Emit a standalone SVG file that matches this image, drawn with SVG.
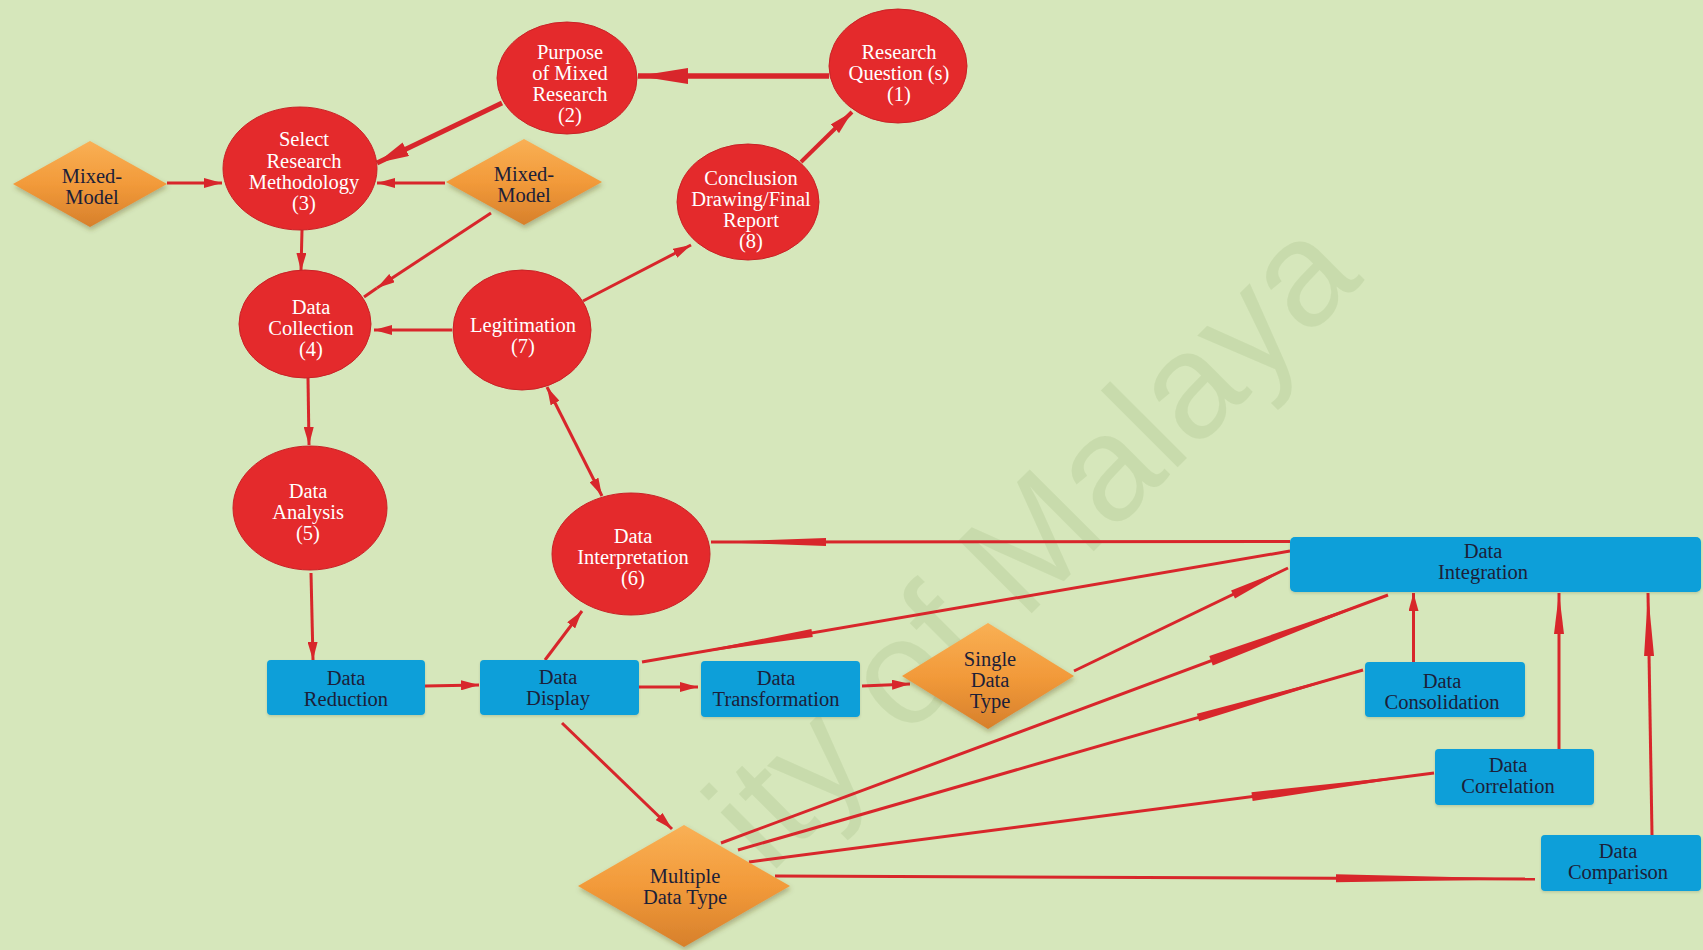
<svg xmlns="http://www.w3.org/2000/svg" xmlns:xlink="http://www.w3.org/1999/xlink" width="1703" height="950" viewBox="0 0 1703 950">
  <style>
    .bg { fill: #d6e7bb; }
    .circle { fill: #e42a2c; stroke: #c92226; stroke-width: 1; }
    .box { fill: #079fd9; filter: url(#boxShadow); }
    .diamond { fill: url(#gOrange); filter: url(#dShadow); }
    .wt { font-family: "Liberation Serif", "Times New Roman", serif; font-size: 20.5px; fill: #ffffff; text-anchor: middle; }
    .dt { font-family: "Liberation Serif", "Times New Roman", serif; font-size: 20.5px; fill: #1c2038; text-anchor: middle; }
    .ln { stroke: #d8262b; stroke-width: 3; fill: none; stroke-linecap: butt; }
    .spear { fill: #d8262b; }
    .wm { font-family: "Liberation Sans", Arial, sans-serif; font-size: 150px; fill: #bcd19f; opacity: 0.5; }
  </style>
  <defs>
    <linearGradient id="gOrange" x1="0" y1="0" x2="0" y2="1">
      <stop offset="0" stop-color="#f9b055"/>
      <stop offset="0.5" stop-color="#f29a3a"/>
      <stop offset="1" stop-color="#d7802b"/>
    </linearGradient>
    <filter id="dShadow" x="-20%" y="-20%" width="140%" height="150%">
      <feDropShadow dx="1" dy="3" stdDeviation="2.5" flood-color="#5c4a1c" flood-opacity="0.35"/>
    </filter>
    <filter id="boxShadow" x="-10%" y="-20%" width="120%" height="150%">
      <feDropShadow dx="0" dy="1.5" stdDeviation="1.2" flood-color="#3f5a3a" flood-opacity="0.2"/>
    </filter>
    <!-- standard arrowhead -->
    <marker id="ah" markerUnits="userSpaceOnUse" markerWidth="18" markerHeight="10" refX="18" refY="5" orient="auto-start-reverse">
      <path d="M0,0 L18,5 L0,10 Z" fill="#d8262b"/>
    </marker>
    <marker id="ahBig" markerUnits="userSpaceOnUse" markerWidth="50" markerHeight="16" refX="50" refY="8" orient="auto">
      <path d="M0,0 L50,8 L0,16 Z" fill="#d8262b"/>
    </marker>
    <marker id="ahMid" markerUnits="userSpaceOnUse" markerWidth="32" markerHeight="15" refX="32" refY="7.5" orient="auto">
      <path d="M0,0 L32,7.5 L0,15 Z" fill="#d8262b"/>
    </marker>
    <marker id="ahC" markerUnits="userSpaceOnUse" markerWidth="24" markerHeight="12" refX="24" refY="6" orient="auto">
      <path d="M0,0 L24,6 L0,12 Z" fill="#d8262b"/>
    </marker>
    <!-- long tapered head: tip at origin, base at x=1 -->
    <path id="spear" d="M0,0 L1,-1 L1,1 Z"/>
  </defs>

  <rect class="bg" x="0" y="0" width="1703" height="950"/>

  <!-- watermark -->
  <text class="wm" transform="translate(1365,280) rotate(-45)" text-anchor="end">ity of Malaya</text>

  <!-- connectors -->
  <g id="connectors">
    <line class="ln" x1="829" y1="76" x2="638" y2="76" style="stroke-width:5.5" marker-end="url(#ahBig)"/>
    <line class="ln" x1="502" y1="103" x2="377" y2="163" style="stroke-width:5" marker-end="url(#ahMid)"/>
    <line class="ln" x1="167" y1="183" x2="222" y2="183" marker-end="url(#ah)"/>
    <line class="ln" x1="445" y1="183" x2="377" y2="183" marker-end="url(#ah)"/>
    <line class="ln" x1="302" y1="230" x2="301" y2="271" marker-end="url(#ah)"/>
    <line class="ln" x1="491" y1="213" x2="377" y2="288" marker-end="url(#ah)"/>
    <line class="ln" x1="377" y1="288" x2="364" y2="297"/>
    <line class="ln" x1="452" y1="330" x2="374" y2="330" marker-end="url(#ah)"/>
    <line class="ln" x1="583" y1="301" x2="691" y2="245" marker-end="url(#ah)"/>
    <line class="ln" x1="801" y1="162" x2="852" y2="112" style="stroke-width:4" marker-end="url(#ahC)"/>
    <line class="ln" x1="547" y1="387" x2="602" y2="496" marker-start="url(#ah)" marker-end="url(#ah)"/>
    <line class="ln" x1="308" y1="378" x2="309" y2="445" marker-end="url(#ah)"/>
    <line class="ln" x1="311" y1="573" x2="313" y2="660" marker-end="url(#ah)"/>
    <line class="ln" x1="425" y1="686" x2="479" y2="685" marker-end="url(#ah)"/>
    <line class="ln" x1="639" y1="687" x2="698" y2="687" marker-end="url(#ah)"/>
    <line class="ln" x1="862" y1="686" x2="910" y2="684" marker-end="url(#ah)"/>
    <line class="ln" x1="545" y1="660" x2="582" y2="611" marker-end="url(#ah)"/>
    <line class="ln" x1="562" y1="723" x2="672" y2="829" marker-end="url(#ah)"/>
    <line class="ln" x1="1413.5" y1="662" x2="1413.5" y2="593" marker-end="url(#ah)"/>

    <!-- lines with long tapered heads -->
    <line class="ln" x1="1290" y1="541.5" x2="711" y2="542"/>
    <use href="#spear" class="spear" transform="translate(711,542) rotate(0) scale(115,4)"/>
    <line class="ln" x1="1290" y1="551" x2="642" y2="662"/>
    <use href="#spear" class="spear" transform="translate(680,655.5) rotate(-9.68) scale(134,4)"/>
    <line class="ln" x1="1074" y1="671" x2="1288" y2="568"/>
    <use href="#spear" class="spear" transform="translate(1288,568) rotate(154.3) scale(61,4.5)"/>
    <line class="ln" x1="721" y1="843" x2="1388" y2="595"/>
    <use href="#spear" class="spear" transform="translate(1388,595) rotate(159.6) scale(188.8,5)"/>
    <line class="ln" x1="738" y1="850" x2="1363" y2="670"/>
    <use href="#spear" class="spear" transform="translate(1363,670) rotate(163.94) scale(171.7,4)"/>
    <line class="ln" x1="749" y1="862" x2="1434" y2="773"/>
    <use href="#spear" class="spear" transform="translate(1434,773) rotate(172.6) scale(183.5,4.5)"/>
    <line class="ln" x1="775" y1="876" x2="1535" y2="879"/>
    <use href="#spear" class="spear" transform="translate(1535,879) rotate(180.2) scale(199,4)"/>
    <line class="ln" x1="1559" y1="749" x2="1559" y2="593"/>
    <use href="#spear" class="spear" transform="translate(1559,593) rotate(90) scale(41,5)"/>
    <line class="ln" x1="1652" y1="835" x2="1648" y2="593"/>
    <use href="#spear" class="spear" transform="translate(1648,593) rotate(89.05) scale(63,5)"/>
  </g>

  <!-- process steps -->
  <g id="research-question">
    <ellipse class="circle" cx="898" cy="66" rx="69" ry="57"/>
    <text class="wt"><tspan x="899" y="59">Research</tspan><tspan x="899" y="80">Question (s)</tspan><tspan x="899" y="101">(1)</tspan></text>
  </g>
  <g id="purpose">
    <ellipse class="circle" cx="567" cy="78" rx="70" ry="56"/>
    <text class="wt"><tspan x="570" y="59">Purpose</tspan><tspan x="570" y="80">of Mixed</tspan><tspan x="570" y="101">Research</tspan><tspan x="570" y="122">(2)</tspan></text>
  </g>
  <g id="select-methodology">
    <ellipse class="circle" cx="300" cy="168.5" rx="77" ry="61.5"/>
    <text class="wt"><tspan x="304" y="146">Select</tspan><tspan x="304" y="167.5">Research</tspan><tspan x="304" y="189">Methodology</tspan><tspan x="304" y="210">(3)</tspan></text>
  </g>
  <g id="mixed-model-left">
    <polygon class="diamond" points="13,184 90,141 167,184 90,227"/>
    <text class="dt"><tspan x="92" y="183">Mixed-</tspan><tspan x="92" y="204">Model</tspan></text>
  </g>
  <g id="mixed-model-right">
    <polygon class="diamond" points="446,182 524,139 602,182 524,225"/>
    <text class="dt"><tspan x="524" y="181">Mixed-</tspan><tspan x="524" y="202">Model</tspan></text>
  </g>
  <g id="data-collection">
    <ellipse class="circle" cx="305" cy="324" rx="66" ry="54"/>
    <text class="wt"><tspan x="311" y="314">Data</tspan><tspan x="311" y="335">Collection</tspan><tspan x="311" y="356">(4)</tspan></text>
  </g>
  <g id="legitimation">
    <ellipse class="circle" cx="522" cy="330" rx="69" ry="60"/>
    <text class="wt"><tspan x="523" y="332">Legitimation</tspan><tspan x="523" y="353">(7)</tspan></text>
  </g>
  <g id="conclusion">
    <ellipse class="circle" cx="748" cy="202" rx="71" ry="58"/>
    <text class="wt"><tspan x="751" y="185">Conclusion</tspan><tspan x="751" y="206">Drawing/Final</tspan><tspan x="751" y="227">Report</tspan><tspan x="751" y="248">(8)</tspan></text>
  </g>
  <g id="data-analysis">
    <ellipse class="circle" cx="310" cy="508" rx="77" ry="62"/>
    <text class="wt"><tspan x="308" y="498">Data</tspan><tspan x="308" y="519">Analysis</tspan><tspan x="308" y="540">(5)</tspan></text>
  </g>
  <g id="data-interpretation">
    <ellipse class="circle" cx="631" cy="554" rx="79" ry="61"/>
    <text class="wt"><tspan x="633" y="543">Data</tspan><tspan x="633" y="564">Interpretation</tspan><tspan x="633" y="585">(6)</tspan></text>
  </g>

  <!-- data handling -->
  <g id="data-reduction">
    <rect class="box" x="267" y="660" width="158" height="55" rx="4"/>
    <text class="dt"><tspan x="346" y="685">Data</tspan><tspan x="346" y="706">Reduction</tspan></text>
  </g>
  <g id="data-display">
    <rect class="box" x="480" y="660" width="159" height="55" rx="4"/>
    <text class="dt"><tspan x="558" y="684">Data</tspan><tspan x="558" y="705">Display</tspan></text>
  </g>
  <g id="data-transformation">
    <rect class="box" x="701" y="661" width="159" height="56" rx="4"/>
    <text class="dt"><tspan x="776" y="685">Data</tspan><tspan x="776" y="706">Transformation</tspan></text>
  </g>
  <g id="single-data-type">
    <polygon class="diamond" points="902,676 988,623 1074,676 988,729"/>
    <text class="dt"><tspan x="990" y="666">Single</tspan><tspan x="990" y="687">Data</tspan><tspan x="990" y="708">Type</tspan></text>
  </g>
  <g id="multiple-data-type">
    <polygon class="diamond" points="578,886 684,825 790,886 684,947"/>
    <text class="dt"><tspan x="685" y="883">Multiple</tspan><tspan x="685" y="904">Data Type</tspan></text>
  </g>
  <g id="data-integration">
    <rect class="box" x="1290" y="537" width="411" height="55" rx="5"/>
    <text class="dt"><tspan x="1483" y="558">Data</tspan><tspan x="1483" y="579">Integration</tspan></text>
  </g>
  <g id="data-consolidation">
    <rect class="box" x="1365" y="662" width="160" height="55" rx="4"/>
    <text class="dt"><tspan x="1442" y="688">Data</tspan><tspan x="1442" y="709">Consolidation</tspan></text>
  </g>
  <g id="data-correlation">
    <rect class="box" x="1435" y="749" width="159" height="56" rx="4"/>
    <text class="dt"><tspan x="1508" y="772">Data</tspan><tspan x="1508" y="793">Correlation</tspan></text>
  </g>
  <g id="data-comparison">
    <rect class="box" x="1541" y="835" width="160" height="56" rx="4"/>
    <text class="dt"><tspan x="1618" y="858">Data</tspan><tspan x="1618" y="879">Comparison</tspan></text>
  </g>
</svg>
